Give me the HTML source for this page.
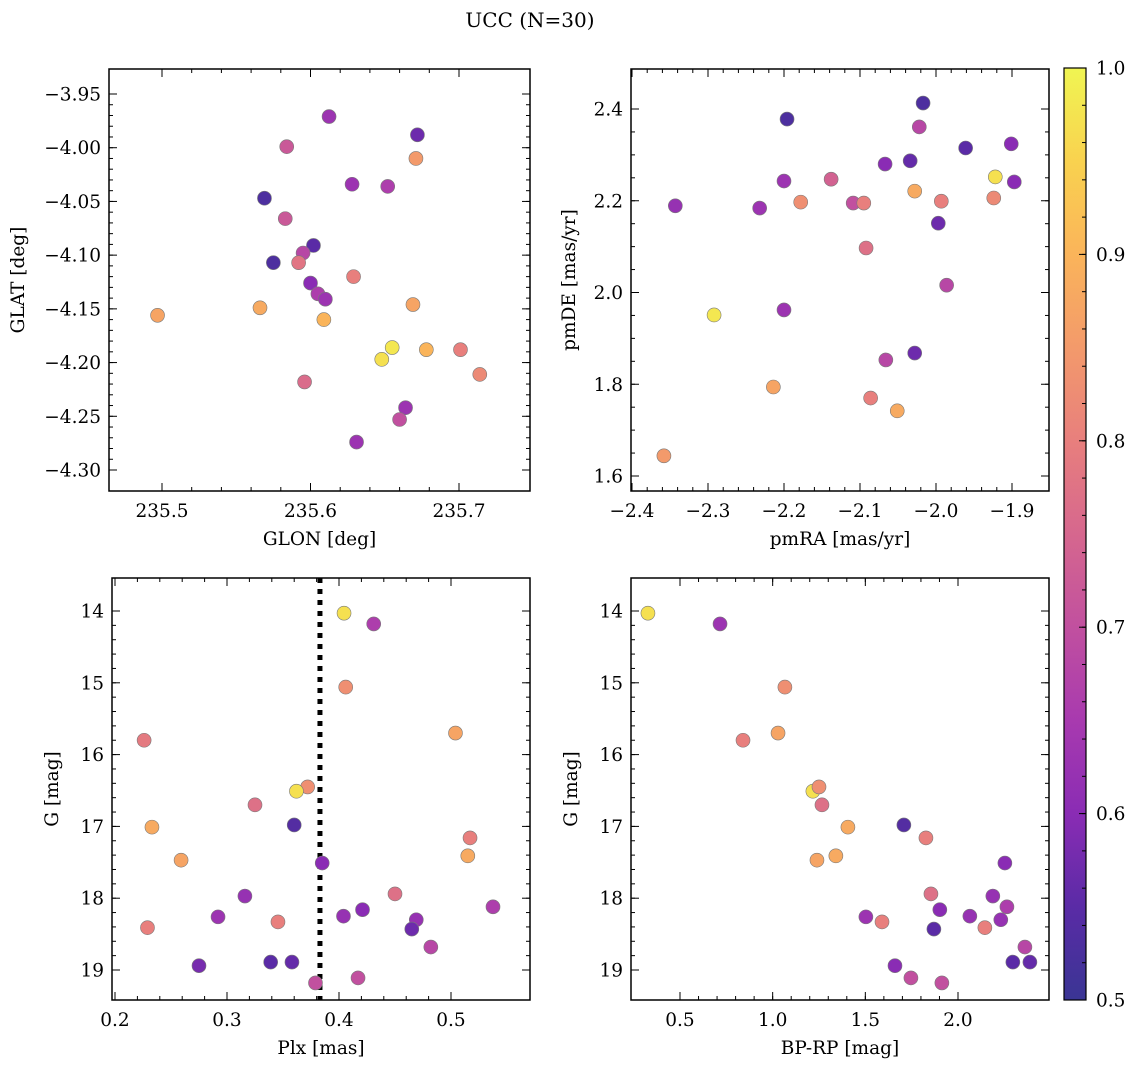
<!DOCTYPE html>
<html><head><meta charset="utf-8">
<style>
html,body{margin:0;padding:0;background:#fff;}
svg{display:block;font-family:"DejaVu Serif","Liberation Serif",serif;}
</style></head>
<body>
<svg id="fig" width="1136" height="1068" viewBox="0 0 1136 1068">
<defs>
<linearGradient id="cbgrad" x1="0" y1="1" x2="0" y2="0">
<stop offset="0" stop-color="#3a3594"/><stop offset="0.1" stop-color="#5a2ba6"/>
<stop offset="0.2" stop-color="#8a2cb4"/><stop offset="0.3" stop-color="#a83aaf"/>
<stop offset="0.4" stop-color="#c1509f"/><stop offset="0.5" stop-color="#d6678e"/>
<stop offset="0.6" stop-color="#e87f7d"/><stop offset="0.7" stop-color="#f39a6b"/>
<stop offset="0.8" stop-color="#fab45a"/><stop offset="0.9" stop-color="#f9d24f"/>
<stop offset="1" stop-color="#f0f552"/>
</linearGradient>
</defs>
<text x="530" y="27" font-size="20" text-anchor="middle">UCC (N=30)</text>
</svg>
<script>
// ---- data ----
const glon=[235.6125,235.672,235.584,235.671,235.628,235.652,235.569,235.583,235.602,235.595,235.575,235.592,235.600,235.629,235.605,235.610,235.497,235.566,235.669,235.609,235.655,235.648,235.678,235.701,235.714,235.596,235.664,235.660,235.631];
const glat=[-3.971,-3.988,-3.999,-4.010,-4.034,-4.036,-4.047,-4.066,-4.091,-4.098,-4.107,-4.107,-4.126,-4.120,-4.136,-4.141,-4.156,-4.149,-4.146,-4.160,-4.186,-4.197,-4.188,-4.188,-4.211,-4.218,-4.242,-4.253,-4.274];
const probPos=[0.63,0.57,0.72,0.85,0.63,0.66,0.53,0.72,0.55,0.68,0.53,0.78,0.6,0.8,0.66,0.63,0.87,0.88,0.87,0.9,0.98,0.97,0.9,0.8,0.82,0.76,0.63,0.7,0.63];

const pmra=[-2.017,-2.196,-2.022,-1.901,-1.961,-2.034,-2.067,-1.922,-2.138,-2.200,-1.897,-2.343,-2.232,-2.028,-2.178,-2.109,-2.095,-1.993,-1.924,-1.997,-2.092,-1.986,-2.292,-2.200,-2.028,-2.066,-2.214,-2.086,-2.051,-2.358];
const pmde=[2.413,2.378,2.361,2.324,2.315,2.287,2.280,2.252,2.247,2.243,2.241,2.189,2.184,2.221,2.197,2.195,2.195,2.199,2.206,2.151,2.097,2.016,1.951,1.962,1.868,1.853,1.794,1.770,1.742,1.644];
const probPm=[0.53,0.53,0.68,0.6,0.55,0.56,0.6,0.97,0.74,0.63,0.6,0.62,0.63,0.88,0.83,0.7,0.8,0.8,0.82,0.57,0.77,0.68,0.98,0.63,0.57,0.68,0.87,0.8,0.88,0.85];

const plx=[0.4045,0.431,0.406,0.504,0.226,0.372,0.362,0.325,0.360,0.233,0.517,0.515,0.259,0.385,0.450,0.316,0.5375,0.421,0.404,0.292,0.3455,0.469,0.465,0.229,0.482,0.275,0.339,0.358,0.417,0.379];
const gPlx=[14.03,14.18,15.06,15.70,15.80,16.45,16.51,16.70,16.98,17.01,17.16,17.41,17.47,17.51,17.94,17.97,18.12,18.16,18.25,18.26,18.33,18.30,18.43,18.41,18.68,18.94,18.89,18.89,19.11,19.18];
const probPlx=[0.97,0.66,0.83,0.87,0.79,0.83,0.97,0.77,0.54,0.88,0.8,0.88,0.87,0.6,0.77,0.62,0.66,0.6,0.62,0.63,0.8,0.62,0.57,0.8,0.68,0.58,0.55,0.56,0.7,0.7];
const plxLine=0.383;

const bprp=[0.327,0.716,1.066,0.840,1.029,1.217,1.250,1.266,1.406,1.708,1.827,1.341,1.239,2.253,1.854,2.188,2.264,1.902,2.064,1.503,1.590,2.231,1.870,2.145,2.361,1.660,2.296,2.388,1.746,1.913];
const gCmd=[14.03,14.18,15.06,15.80,15.70,16.51,16.45,16.70,17.01,16.98,17.16,17.41,17.47,17.51,17.94,17.97,18.12,18.16,18.25,18.26,18.33,18.30,18.43,18.41,18.68,18.94,18.89,18.89,19.11,19.18];
const probCmd=[0.97,0.63,0.83,0.8,0.87,0.97,0.83,0.77,0.88,0.54,0.8,0.88,0.87,0.6,0.77,0.62,0.66,0.6,0.62,0.63,0.8,0.62,0.55,0.8,0.68,0.6,0.55,0.56,0.7,0.7];

const xt1=[235.5,235.6,235.7], yt1=[-3.95,-4.00,-4.05,-4.10,-4.15,-4.20,-4.25,-4.30];
const xt2=[-2.4,-2.3,-2.2,-2.1,-2.0,-1.9], yt2=[1.6,1.8,2.0,2.2,2.4];
const xt3=[0.2,0.3,0.4,0.5], yt3=[14,15,16,17,18,19];
const xt4=[0.5,1.0,1.5,2.0], yt4=[14,15,16,17,18,19];
const cbTicks=[0.5,0.6,0.7,0.8,0.9,1.0];

// ---- helpers ----
const NS="http://www.w3.org/2000/svg";
const svg=document.getElementById('fig');
function mk(tag,attrs,parent){const e=document.createElementNS(NS,tag);for(const k in attrs)e.setAttribute(k,attrs[k]);(parent||svg).appendChild(e);return e;}
const stops=[[0.5,[58,53,148]],[0.55,[90,43,166]],[0.6,[138,44,180]],[0.65,[168,58,175]],[0.7,[193,80,159]],[0.75,[214,103,142]],[0.8,[232,127,125]],[0.85,[243,154,107]],[0.9,[250,180,90]],[0.95,[249,210,79]],[1.0,[240,245,82]]];
function cmap(v){v=Math.max(0.5,Math.min(1,v));for(let i=0;i<stops.length-1;i++){const a=stops[i],b=stops[i+1];if(v<=b[0]){const t=(v-a[0])/(b[0]-a[0]);const c=a[1].map((x,j)=>Math.round(x+(b[1][j]-x)*t));return `rgb(${c})`;}}return 'rgb(240,245,82)';}
function fmt(v,d){return v.toFixed(d).replace('-','\u2212');}
const FS=18.5;

function panel(o){
  const g=mk('g',{});
  
  
  const X=v=>o.x0+(v-o.xa)/(o.xb-o.xa)*(o.x1-o.x0);
  const Y=v=>o.y0+(v-o.ya)/(o.yb-o.ya)*(o.y1-o.y0);
  const ticks=mk('g',{stroke:'#000','stroke-width':1},g);
  
  
  const xmin=Math.min(o.xa,o.xb),xmax=Math.max(o.xa,o.xb);
  for(let v=Math.ceil(xmin/o.xm)*o.xm;v<=xmax+1e-9;v+=o.xm){const px=X(v);if(px<o.fx0+1||px>o.fx1-1)continue;
    mk('line',{x1:px,x2:px,y1:o.fy1,y2:o.fy1-4},ticks);mk('line',{x1:px,x2:px,y1:o.fy0,y2:o.fy0+4},ticks);}
  const ymin=Math.min(o.ya,o.yb),ymax=Math.max(o.ya,o.yb);
  for(let v=Math.ceil(ymin/o.ym)*o.ym;v<=ymax+1e-9;v+=o.ym){const py=Y(v);if(py<o.fy0+1||py>o.fy1-1)continue;
    mk('line',{x1:o.fx0,x2:o.fx0+4,y1:py,y2:py},ticks);mk('line',{x1:o.fx1,x2:o.fx1-4,y1:py,y2:py},ticks);}
  o.xt.forEach(v=>{const px=X(v);mk('line',{x1:px,x2:px,y1:o.fy1,y2:o.fy1-8},ticks);mk('line',{x1:px,x2:px,y1:o.fy0,y2:o.fy0+8},ticks);
    const t=mk('text',{x:px,y:o.fy1+26,'font-size':FS,'text-anchor':'middle'},g);t.textContent=fmt(v,o.xd);
    });
  o.yt.forEach(v=>{const py=Y(v);mk('line',{x1:o.fx0,x2:o.fx0+8,y1:py,y2:py},ticks);mk('line',{x1:o.fx1,x2:o.fx1-8,y1:py,y2:py},ticks);
    const t=mk('text',{x:o.fx0-8,y:py+6.5,'font-size':FS,'text-anchor':'end'},g);t.textContent=fmt(v,o.yd);
    });
  if(o.vline!==undefined){const l=mk('line',{x1:X(o.vline),x2:X(o.vline),y1:o.fy0,y2:o.fy1,stroke:'#000','stroke-width':5,'stroke-dasharray':'5 6'},g);
    }
  const pts=mk('g',{},g);
  
  o.xs.forEach((xv,i)=>{const c=mk('circle',{cx:X(xv),cy:Y(o.ys[i]),r:7,fill:cmap(o.cs[i]),stroke:'#7a7a7a','stroke-width':0.6},pts);
    });
  const f=mk('rect',{x:o.fx0,y:o.fy0,width:o.fx1-o.fx0,height:o.fy1-o.fy0,fill:'none',stroke:'#000','stroke-width':1.5},g);
  
  const xl=mk('text',{x:(o.fx0+o.fx1)/2,y:o.fy1+54,'font-size':FS,'text-anchor':'middle'},g);xl.textContent=o.xlab;
  
  const yl=mk('text',{x:0,y:0,'font-size':FS,'text-anchor':'middle',transform:`translate(${o.ylx},${(o.fy0+o.fy1)/2}) rotate(-90)`},g);yl.textContent=o.ylab;
  
}

panel({name:'position-panel',fx0:109,fx1:530,fy0:69,fy1:491,xa:235.5,xb:235.7,x0:162,x1:459,ya:-3.95,yb:-4.30,y0:94,y1:470,
  xm:0.02,ym:0.01,xt:xt1,yt:yt1,xd:1,yd:2,xs:glon,ys:glat,cs:probPos,xlab:'GLON [deg]',ylab:'GLAT [deg]',ylx:24});
panel({name:'proper-motion-panel',fx0:631,fx1:1049,fy0:69,fy1:491,xa:-2.4,xb:-1.9,x0:632,x1:1012,ya:2.4,yb:1.6,y0:109,y1:476,
  xm:0.02,ym:0.05,xt:xt2,yt:yt2,xd:1,yd:1,xs:pmra,ys:pmde,cs:probPm,xlab:'pmRA [mas/yr]',ylab:'pmDE [mas/yr]',ylx:575});
panel({name:'parallax-panel',fx0:112,fx1:530,fy0:578,fy1:1000,xa:0.2,xb:0.5,x0:115,x1:451,ya:14,yb:19,y0:611,y1:970,
  xm:0.02,ym:0.2,xt:xt3,yt:yt3,xd:1,yd:0,xs:plx,ys:gPlx,cs:probPlx,xlab:'Plx [mas]',ylab:'G [mag]',ylx:58,vline:plxLine});
panel({name:'cmd-panel',fx0:631,fx1:1049,fy0:578,fy1:1000,xa:0.5,xb:2.0,x0:680,x1:958,ya:14,yb:19,y0:611,y1:970,
  xm:0.1,ym:0.2,xt:xt4,yt:yt4,xd:1,yd:0,xs:bprp,ys:gCmd,cs:probCmd,xlab:'BP-RP [mag]',ylab:'G [mag]',ylx:577});

// colorbar
const cb=mk('g',{});


const cbr=mk('rect',{x:1064,y:68,width:22,height:932,fill:'url(#cbgrad)',stroke:'#000','stroke-width':1.2},cb);


const CY=v=>1000-(v-0.5)/0.5*932;
for(let v=0.52;v<0.999;v+=0.02){mk('line',{x1:1086,x2:1082,y1:CY(v),y2:CY(v),stroke:'#000'},cb);}
cbTicks.forEach(v=>{mk('line',{x1:1086,x2:1079,y1:CY(v),y2:CY(v),stroke:'#000'},cb);
  const t=mk('text',{x:1096,y:CY(v)+6.5,'font-size':FS},cb);t.textContent=v.toFixed(1);
  
  });
</script>
</body></html>
